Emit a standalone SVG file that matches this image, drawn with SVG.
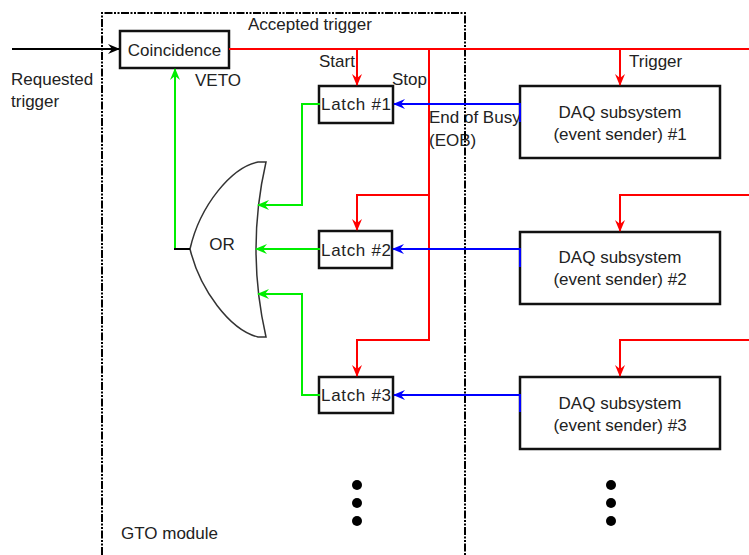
<svg xmlns="http://www.w3.org/2000/svg" width="749" height="555" viewBox="0 0 749 555">
<style>
text{font-family:"Liberation Sans",Arial,sans-serif;font-size:17px;fill:#222}
.box{fill:#fff;stroke:#111;stroke-width:2.5}
.r{fill:none;stroke:#ff0000;stroke-width:2}
.g{fill:none;stroke:#00ee00;stroke-width:2}
.b{fill:none;stroke:#0000ff;stroke-width:2}
.k{fill:none;stroke:#000;stroke-width:2}
.m{text-anchor:middle}
</style>
<defs>
<marker id="ar" viewBox="0 0 12 10" refX="11" refY="5" markerWidth="12" markerHeight="10" markerUnits="userSpaceOnUse" orient="auto"><path d="M0,0 L12,5 L0,10 L4,5 z" fill="#ff0000"/></marker>
<marker id="ag" viewBox="0 0 12 10" refX="11" refY="5" markerWidth="12" markerHeight="10" markerUnits="userSpaceOnUse" orient="auto"><path d="M0,0 L12,5 L0,10 L4,5 z" fill="#00ee00"/></marker>
<marker id="ab" viewBox="0 0 12 10" refX="11" refY="5" markerWidth="12" markerHeight="10" markerUnits="userSpaceOnUse" orient="auto"><path d="M0,0 L12,5 L0,10 L4,5 z" fill="#0000ff"/></marker>
<marker id="ak" viewBox="0 0 12 10" refX="11" refY="5" markerWidth="12" markerHeight="10" markerUnits="userSpaceOnUse" orient="auto"><path d="M0,0 L12,5 L0,10 L4,5 z" fill="#000"/></marker>
</defs>
<rect width="749" height="555" fill="#fff"/>
<g id="labels">
<text x="11" y="85">Requested</text>
<text x="11" y="107">trigger</text>
<text x="195" y="86">VETO</text>
<text x="248" y="30">Accepted trigger</text>
<text x="319" y="67">Start</text>
<text x="392" y="85">Stop</text>
<text x="429" y="123">End of Busy</text>
<text x="429" y="146">(EOB)</text>
<text x="629" y="67">Trigger</text>
<text x="121" y="539">GTO module</text>
</g>
<g id="gto-module">
<path d="M102,555 V13 H465 V555" fill="none" stroke="#000" stroke-width="2" stroke-dasharray="8,1.5,2,1.5,2,1.5"/>
</g>
<g id="coincidence">
<rect class="box" x="120" y="31" width="109" height="37"/>
<text class="m" x="174.5" y="56">Coincidence</text>
</g>
<g id="or-gate">
<path d="M258,162 H266 Q246,249 266,337 H258 C230,330 200,290 190,249 C200,205 232,167 258,162 Z" fill="#fff" stroke="#333" stroke-width="1.5"/>
<text class="m" x="222" y="250">OR</text>
</g>
<g id="latch1">
<rect class="box" x="319" y="86" width="74" height="37"/>
<text x="321" y="110" textLength="70" lengthAdjust="spacing">Latch #1</text>
</g>
<g id="latch2">
<rect class="box" x="319" y="231" width="73" height="37"/>
<text x="321" y="256" textLength="70" lengthAdjust="spacing">Latch #2</text>
</g>
<g id="latch3">
<rect class="box" x="319" y="377" width="74" height="36"/>
<text x="321" y="401" textLength="70" lengthAdjust="spacing">Latch #3</text>
</g>
<g id="daq1">
<rect class="box" x="520" y="86" width="200" height="72"/>
<text class="m" x="620" y="118">DAQ subsystem</text>
<text class="m" x="620" y="140">(event sender) #1</text>
</g>
<g id="daq2">
<rect class="box" x="520" y="232" width="200" height="72"/>
<text class="m" x="620" y="263">DAQ subsystem</text>
<text class="m" x="620" y="285">(event sender) #2</text>
</g>
<g id="daq3">
<rect class="box" x="520" y="377" width="200" height="72"/>
<text class="m" x="620" y="409">DAQ subsystem</text>
<text class="m" x="620" y="431">(event sender) #3</text>
</g>
<g id="ellipsis">
<circle cx="357" cy="485" r="5"/><circle cx="357" cy="503" r="5"/><circle cx="357" cy="521" r="5"/>
<circle cx="611" cy="485" r="5"/><circle cx="611" cy="503" r="5"/><circle cx="611" cy="521" r="5"/>
</g>
<g id="connectors">
<path class="k" d="M12,49 H119" marker-end="url(#ak)"/>
<path class="r" d="M229,49 H749"/>
<path class="r" d="M357,49 V85" marker-end="url(#ar)"/>
<path class="r" d="M429,49 V340 H357 V376" marker-end="url(#ar)"/>
<path class="r" d="M429,195 H357 V230" marker-end="url(#ar)"/>
<path class="r" d="M620,49 V85" marker-end="url(#ar)"/>
<path class="r" d="M749,195 H620 V231" marker-end="url(#ar)"/>
<path class="r" d="M749,340 H620 V376" marker-end="url(#ar)"/>
<path class="b" d="M520,122 V104 H394" marker-end="url(#ab)"/>
<path class="b" d="M520,267 V249 H393" marker-end="url(#ab)"/>
<path class="b" d="M520,412 V395 H394" marker-end="url(#ab)"/>
<path class="g" d="M320,104 H302 V205 H258" marker-end="url(#ag)"/>
<path class="g" d="M320,249 H256" marker-end="url(#ag)"/>
<path class="g" d="M320,395 H302 V294 H258" marker-end="url(#ag)"/>
<path class="g" d="M175,249 V69" marker-end="url(#ag)"/>
<path class="k" d="M174,249 H190" stroke-width="1.5"/>
</g>
</svg>
